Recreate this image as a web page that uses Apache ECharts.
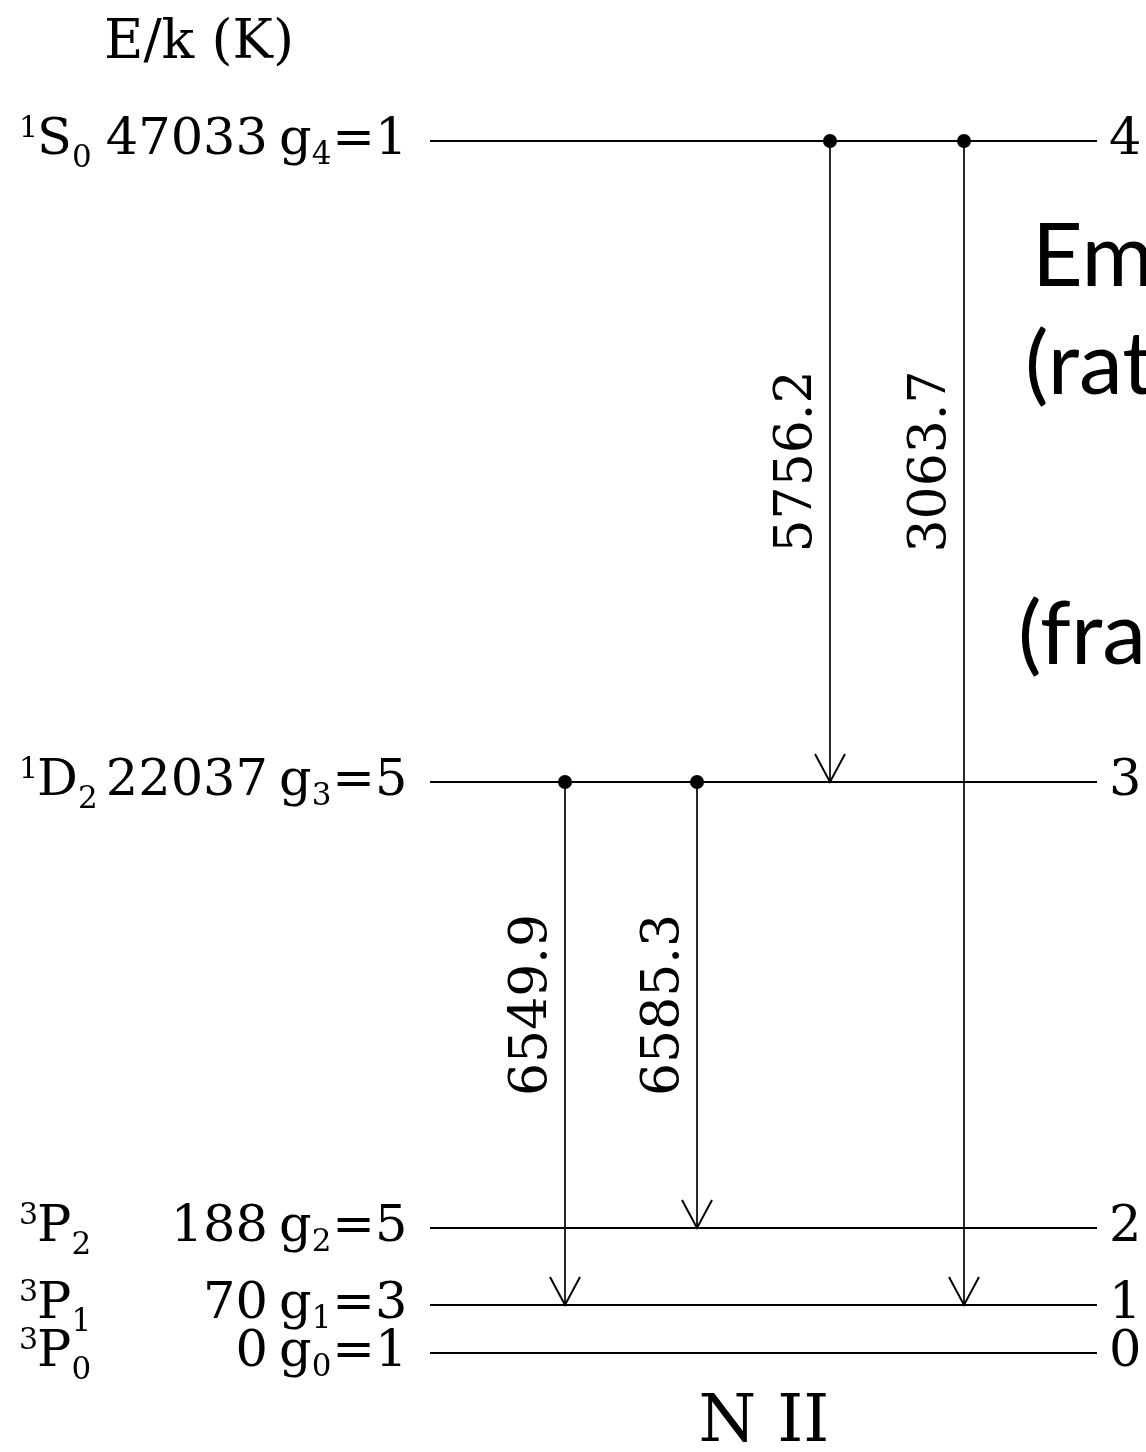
<!DOCTYPE html>
<html><head><meta charset="utf-8">
<script src="https://cdn.jsdelivr.net/npm/echarts@6/dist/echarts.min.js"></script>
<style>html,body{margin:0;padding:0;background:#fff}#c{width:1146px;height:1452px}</style>
</head><body><div id="c"></div>
<script>
// ---- data ----
const levelIndex = [0, 1, 2, 3, 4];
const levelMultiplicity = ['3', '3', '3', '1', '1'];
const levelLetter = ['P', 'P', 'P', 'D', 'S'];
const levelJ = ['0', '1', '2', '2', '0'];
const levelEnergyK = ['0', '70', '188', '22037', '47033'];
const levelWeight = ['1', '3', '5', '5', '1'];
// schematic (not-to-scale) vertical position of each level in the diagram
const levelDiagramY = [0, 48, 125, 571, 1212];

const transUpper = [4, 4, 3, 3];
const transLower = [3, 1, 1, 2];
const transWavelength = ['5756.2', '3063.7', '6549.9', '6585.3'];
const transDiagramX = [400, 534, 135, 267];

const titleText = 'E/k (K)';
const ionText = 'N II';
const sideTexts = ['Emission', '(rates)', '(fractions)'];

// ---- drawing ----
const X_MAX = 667, Y_MAX = 1212;
const SERIF = '"DejaVu Serif", serif';
const SANS = 'Lato, "Noto Sans", sans-serif';
const BIG = 51, SMALL = 31, SUP = 30;

const mctx = document.createElement('canvas').getContext('2d');
function tw(text, size) { mctx.font = size + 'px ' + SERIF; return mctx.measureText(text).width; }
function txt(s, x, y, size, align, font) {
  return { type: 'text', silent: true, style: {
    text: s, x: x, y: y, font: size + 'px ' + (font || SERIF), fill: '#000',
    align: align || 'left', verticalAlign: 'middle' } };
}

const chart = echarts.init(document.getElementById('c'), null, { renderer: 'canvas' });

const levelData = levelIndex.map(i => [0, levelDiagramY[i], i]);
const transData = transUpper.map((u, k) => [transDiagramX[k], levelDiagramY[u], levelDiagramY[transLower[k]], levelDiagramY[u - 1], k]);

chart.setOption({
  animation: false,
  backgroundColor: '#fff',
  grid: { left: 430, right: 49, top: 141, bottom: 99 },
  xAxis: { type: 'value', min: 0, max: X_MAX, show: false },
  yAxis: { type: 'value', min: 0, max: Y_MAX, show: false },
  graphic: [
    { type: 'text', x: 104, y: 44, style: { text: titleText, font: '54px ' + SERIF, fill: '#000', verticalAlign: 'middle' } },
    { type: 'text', x: 764, y: 1424, style: { text: ionText, font: '66px ' + SERIF, fill: '#000', align: 'center', verticalAlign: 'middle' } },
    { type: 'text', x: 1032, y: 258, style: { text: sideTexts[0], font: '88px ' + SANS, fill: '#000', verticalAlign: 'middle' } },
    { type: 'text', x: 1025, y: 366, style: { text: sideTexts[1], font: '88px ' + SANS, fill: '#000', verticalAlign: 'middle' } },
    { type: 'text', x: 1018, y: 636, style: { text: sideTexts[2], font: '88px ' + SANS, fill: '#000', verticalAlign: 'middle' } }
  ],
  series: [
    {
      type: 'custom', clip: false, silent: true,
      data: levelData,
      renderItem: function (params, api) {
        const i = api.value(2);
        const yv = api.value(1);
        const p0 = api.coord([0, yv]);
        const p1 = api.coord([X_MAX, yv]);
        const ly = p0[1];
        const left = p0[0];
        const ch = [];
        ch.push({ type: 'line', silent: true, shape: { x1: left, y1: ly, x2: p1[0], y2: ly }, style: { stroke: '#000', lineWidth: 2 } });
        // term symbol  ^{2S+1}L_J
        let x = left - 411;
        ch.push(txt(levelMultiplicity[i], x, ly - 12, SUP));
        x += tw(levelMultiplicity[i], SUP) - 1;
        ch.push(txt(levelLetter[i], x, ly, BIG));
        x += tw(levelLetter[i], BIG);
        ch.push(txt(levelJ[i], x, ly + 18, SMALL));
        // energy
        ch.push(txt(levelEnergyK[i], left - 162, ly, BIG, 'right'));
        // statistical weight g_i = ..
        let gx = left - 151;
        ch.push(txt('g', gx, ly, BIG)); gx += tw('g', BIG);
        ch.push(txt(String(i), gx, ly + 15, SMALL)); gx += tw(String(i), SMALL) + 1;
        ch.push(txt('=', gx, ly, BIG)); gx += tw('=', BIG);
        ch.push(txt(levelWeight[i], gx, ly, BIG));
        // index on the right
        ch.push(txt(String(i), p1[0] + 12, ly, BIG));
        return { type: 'group', children: ch };
      }
    },
    {
      type: 'custom', clip: false, silent: true,
      data: transData,
      renderItem: function (params, api) {
        const k = api.value(4);
        const pu = api.coord([api.value(0), api.value(1)]);
        const pl = api.coord([api.value(0), api.value(2)]);
        const pm = api.coord([api.value(0), (api.value(1) + api.value(3)) / 2]);
        return { type: 'group', children: [
          { type: 'line', silent: true, shape: { x1: pu[0], y1: pu[1], x2: pl[0], y2: pl[1] }, style: { stroke: '#111', lineWidth: 1.8 } },
          { type: 'polyline', silent: true, shape: { points: [[pl[0] - 15, pl[1] - 28], [pl[0], pl[1]], [pl[0] + 15, pl[1] - 28]] }, style: { stroke: '#000', lineWidth: 2, fill: null } },
          { type: 'circle', silent: true, shape: { cx: pu[0], cy: pu[1], r: 7 }, style: { fill: '#000' } },
          { type: 'text', silent: true, x: pu[0] - 33, y: pm[1], rotation: Math.PI / 2,
            style: { text: transWavelength[k], x: 0, y: 0, font: '52px ' + SERIF, fill: '#000', align: 'center', verticalAlign: 'middle' } }
        ] };
      }
    }
  ]
});
</script></body></html>
